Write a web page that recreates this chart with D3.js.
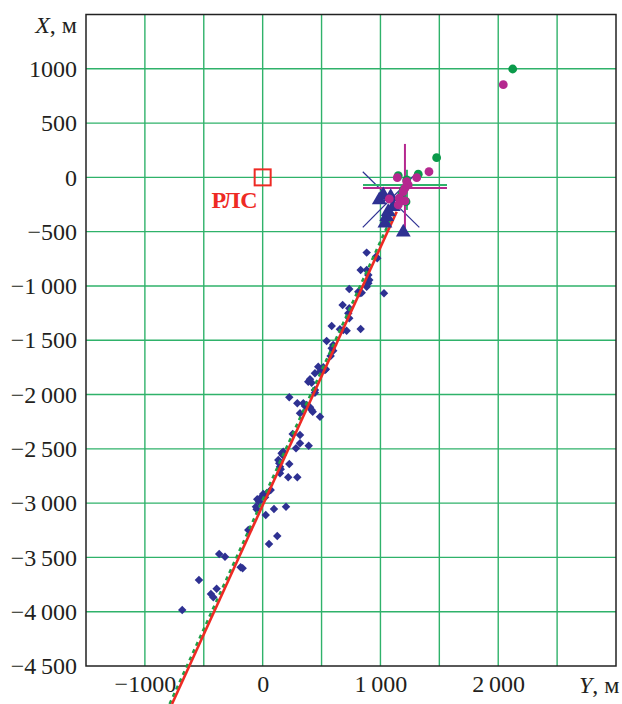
<!DOCTYPE html>
<html><head><meta charset="utf-8">
<script src="https://cdn.jsdelivr.net/npm/d3@7"></script>
<style>body{margin:0;background:#fff}svg{display:block}</style>
</head><body><svg id="c" width="622" height="704"></svg>
<script>
// ---- data (Y = horizontal, X = vertical, metres) ----
const yTickVals = [-1000, 0, 1000, 2000];
const yTickLabels = ["\u22121000", "0", "1\u2009000", "2\u2009000"];
const xTickVals = [1000, 500, 0, -500, -1000, -1500, -2000, -2500, -3000, -3500, -4000, -4500];
const xTickLabels = ["1000", "500", "0", "\u2212500", "\u22121\u2009000", "\u22121\u2009500", "\u22122\u2009000", "\u22122\u2009500", "\u22123\u2009000", "\u22123\u2009500", "\u22124\u2009000", "\u22124\u2009500"];
const gridY = [-1000, -500, 0, 500, 1000, 1500, 2000, 2500];
const gridX = [-4000, -3500, -3000, -2500, -2000, -1500, -1000, -500, 0, 500, 1000];

// measured track points (diamonds) [Y, X]
const diamonds = [
 [-683,-3984],[-541,-3708],[-439,-3837],[-419,-3867],[-391,-3788],[-369,-3468],[-320,-3493],
 [-187,-3591],[-170,-3600],[54,-3376],[124,-3303],[-122,-3247],[26,-3109],[96,-3054],[198,-3033],
 [-57,-3033],[-51,-3057],[-46,-2965],[-31,-2987],[-9,-2941],[5,-2916],[34,-2909],[68,-2879],[20,-2946],
 [147,-2725],[153,-2688],[147,-2664],[217,-2762],[294,-2762],[226,-2640],[133,-2603],[141,-2633],
 [161,-2541],[175,-2526],[170,-2557],[283,-2495],[391,-2471],[317,-2449],[317,-2372],[255,-2363],
 [487,-2204],[317,-2173],[425,-2158],[416,-2142],[402,-2117],[374,-2096],[359,-2105],[345,-2081],
 [294,-2081],[226,-2025],[444,-1983],[444,-1958],[387,-1882],[416,-1891],[487,-1789],[529,-1774],
 [444,-1804],[402,-1860],[472,-1743],[515,-1749],[537,-1767],[577,-1645],[599,-1596],[586,-1574],
 [599,-1544],[543,-1507],[656,-1399],[684,-1405],[713,-1412],[832,-1396],[586,-1369],[735,-1298],
 [727,-1252],[735,-1206],[679,-1175],[1030,-1067],[812,-1053],[826,-1067],[841,-1062],[735,-1028],
 [883,-1007],[897,-975],[905,-945],[897,-899],[883,-853],[832,-853],[962,-730],[973,-745],[883,-693]
];
// triangles [Y, X]
const triangles = [[1024,-162],[990,-208],[1087,-178],[1109,-270],[1066,-316],[1053,-362],[1038,-423],[1194,-506]];
// magenta points [Y, X]
const magenta = [[2043,854],[1412,52],[1308,-3],[1143,-3],[1223,-40],[1236,-70],[1208,-100],[1194,-132],
 [1075,-199],[1160,-192],[1166,-224],[1151,-254],[1208,-217]];
// green points [Y, X]
const green = [[2123,998],[1477,181],[1321,29],[1151,16],[1223,-24],[1194,-116],[1180,-162],[1217,-224]];
// regression lines [Y, X]
const redLine = [[-770,-4850],[1138,-316]];
const greenLine = [[-790,-4850],[1122,-300]];
// blue cross [Y, X]
const blueCross = [[[850,52],[1330,-460]], [[850,-460],[1317,52]]];
// error crosses [Y, X]
const greenCross = [[[852,-70],[1565,-70]], [[1225,70],[1225,-300]]];
const magentaCross = [[[852,-98],[1565,-98]], [[1208,308],[1208,-503]]];
const radar = [0, 0];

// ---- drawing ----
const svg = d3.select("#c");
const x = d3.scaleLinear().domain([-1500, 3000]).range([86, 616]);
const y = d3.scaleLinear().domain([-4500, 1500]).range([666, 14.5]);
const font = "Liberation Serif, Times New Roman, serif";
const gridColor = "#2fb26a";

const g = svg.append("g");
g.selectAll("line.gv").data(gridY).join("line")
  .attr("x1", d => x(d)).attr("x2", d => x(d)).attr("y1", y(1500)).attr("y2", y(-4500))
  .attr("stroke", gridColor).attr("stroke-width", 1.4);
g.selectAll("line.gh").data(gridX).join("line")
  .attr("x1", x(-1500)).attr("x2", x(3000)).attr("y1", d => y(d)).attr("y2", d => y(d))
  .attr("stroke", gridColor).attr("stroke-width", 1.4);

// frame
svg.append("rect").attr("x", x(-1500)).attr("y", y(1500))
  .attr("width", x(3000) - x(-1500)).attr("height", y(-4500) - y(1500))
  .attr("fill", "none").attr("stroke", "#222").attr("stroke-width", 1.5);

// axes
const ax = svg.append("g").attr("transform", `translate(${x(-1500)},0)`)
  .call(d3.axisLeft(y).tickValues(xTickVals).tickFormat((d, i) => xTickLabels[i]).tickSize(0).tickPadding(9));
const bx = svg.append("g").attr("transform", `translate(0,${y(-4500)})`)
  .call(d3.axisBottom(x).tickValues(yTickVals).tickFormat((d, i) => yTickLabels[i]).tickSize(0).tickPadding(9));
[ax, bx].forEach(a => {
  a.attr("font-family", null).attr("font-size", null);
  a.select(".domain").remove();
  a.selectAll("text").style("font-family", font).style("font-size", "24px").attr("fill", "#231f20");
});

// axis titles
const tX = svg.append("text").attr("x", 77).attr("y", 33).attr("text-anchor", "end")
  .style("font-family", font).style("font-size", "24px").attr("fill", "#231f20");
tX.append("tspan").attr("font-style", "italic").text("X");
tX.append("tspan").text(", м");
const tY = svg.append("text").attr("x", 579).attr("y", 693)
  .style("font-family", font).style("font-size", "24px").attr("fill", "#231f20");
tY.append("tspan").attr("font-style", "italic").text("Y");
tY.append("tspan").text(", м");

const line = d3.line().x(d => x(d[0])).y(d => y(d[1]));

// blue X
svg.selectAll("path.bx").data(blueCross).join("path").attr("d", line)
  .attr("stroke", "#2e3192").attr("stroke-width", 1.2).attr("fill", "none");
// error crosses
svg.selectAll("path.gc").data(greenCross).join("path").attr("d", line)
  .attr("stroke", "#2fb26a").attr("stroke-width", 2).attr("fill", "none");
svg.selectAll("path.mc").data(magentaCross).join("path").attr("d", line)
  .attr("stroke", "#b5288f").attr("stroke-width", 2).attr("fill", "none");

// diamonds (squares rotated 45deg)
const dsym = d3.symbol().type(d3.symbolSquare).size(36);
svg.selectAll("path.dia").data(diamonds).join("path")
  .attr("transform", d => `translate(${x(d[0])},${y(d[1])}) rotate(45)`)
  .attr("d", dsym).attr("fill", "#2e3192");

// regression lines
svg.append("path").attr("d", line(greenLine)).attr("stroke", "#1ea048")
  .attr("stroke-width", 2.6).attr("stroke-dasharray", "4,4").attr("fill", "none");
svg.append("path").attr("d", line(redLine)).attr("stroke", "#ee2a24")
  .attr("stroke-width", 2.6).attr("fill", "none");

// triangles
const tsym = d3.symbol().type(d3.symbolTriangle).size(95);
svg.selectAll("path.tri").data(triangles).join("path")
  .attr("transform", d => `translate(${x(d[0])},${y(d[1])})`)
  .attr("d", tsym).attr("fill", "#2e3192");

// green and magenta points
svg.selectAll("circle.gp").data(green).join("circle")
  .attr("cx", d => x(d[0])).attr("cy", d => y(d[1])).attr("r", 4.4).attr("fill", "#0a9a4a");
svg.selectAll("circle.mp").data(magenta).join("circle")
  .attr("cx", d => x(d[0])).attr("cy", d => y(d[1])).attr("r", 4.4).attr("fill", "#b5288f");

// radar
svg.append("rect").attr("x", x(radar[0]) - 8).attr("y", y(radar[1]) - 8)
  .attr("width", 16).attr("height", 16).attr("fill", "none")
  .attr("stroke", "#ee2a24").attr("stroke-width", 2);
svg.append("text").attr("x", x(radar[0]) - 5).attr("y", y(radar[1]) + 31)
  .attr("text-anchor", "end").style("font-family", font).attr("font-weight", "bold")
  .style("font-size", "24px").attr("fill", "#ee2a24").text("РЛС");
</script></body></html>
